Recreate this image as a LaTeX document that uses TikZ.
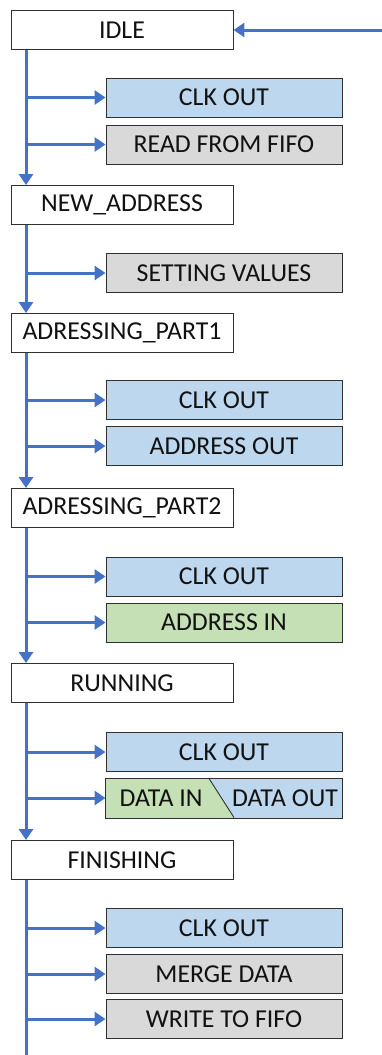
\documentclass[tikz,border=0pt]{standalone}
\usepackage{fontspec}
\setmainfont{Carlito}
\usetikzlibrary{arrows.meta}
\definecolor{flowblue}{HTML}{4472C4}
\definecolor{outblue}{HTML}{BDD7EE}
\definecolor{ingreen}{HTML}{C5E0B4}
\definecolor{taskgray}{HTML}{D9D9D9}
\definecolor{edgegray}{HTML}{303030}
\definecolor{inktext}{HTML}{111111}
\tikzset{
  boxfont/.style={font=\fontsize{25.8}{30}\selectfont},
  statebox/.style={draw=edgegray, line width=0.9pt, fill=white, minimum width=222pt, minimum height=39pt, inner sep=0pt, text=inktext, boxfont},
  taskbox/.style={draw=edgegray, line width=0.9pt, minimum width=236pt, minimum height=39pt, inner sep=0pt, text=inktext, boxfont},
  clkbox/.style={taskbox, fill=outblue},
  graybox/.style={taskbox, fill=taskgray},
  greenbox/.style={taskbox, fill=ingreen},
  flow/.style={draw=flowblue, line width=3pt, -{Triangle[length=11pt, width=14pt]}},
  trunkline/.style={draw=flowblue, line width=3pt},
  lbl/.style={inner sep=0pt, text=inktext, boxfont}
}
\begin{document}
\begin{tikzpicture}[x=1pt, y=-1pt]
\useasboundingbox (0,0) rectangle (382,1055);

% states
\node[statebox] (idle) at (122,30) {IDLE};
\node[statebox] (newaddr) at (122,205) {NEW\_ADDRESS};
\node[statebox] (adr1) at (122,333) {ADRESSING\_PART1};
\node[statebox] (adr2) at (122,508) {ADRESSING\_PART2};
\node[statebox] (run) at (122,683) {RUNNING};
\node[statebox] (fin) at (122,860) {FINISHING};

% actions per state
\node[clkbox] (clkA) at (224,97.5) {CLK OUT};
\node[graybox] (rdfifo) at (224,144.5) {READ FROM FIFO};
\node[graybox] (setval) at (224,273) {SETTING VALUES};
\node[clkbox] (clkB) at (224,400) {CLK OUT};
\node[clkbox] (addrout) at (224,446) {ADDRESS OUT};
\node[clkbox] (clkC) at (224,576.5) {CLK OUT};
\node[greenbox] (addrin) at (224,622.5) {ADDRESS IN};
\node[clkbox] (clkD) at (224,752) {CLK OUT};
\node[taskbox] (dataio) at (224,798) {};
\node[clkbox] (clkE) at (224,928) {CLK OUT};
\node[graybox] (merge) at (224,974) {MERGE DATA};
\node[graybox] (wrfifo) at (224,1019) {WRITE TO FIFO};

% split data box: green input part, blue output part
\fill[outblue] (dataio.north west) rectangle (dataio.south east);
\fill[ingreen] (dataio.north west) -- (209,778.5) -- (234,817.5) -- (dataio.south west) -- cycle;
\draw[edgegray, line width=0.9pt] (209,778.5) -- (234,817.5);
\draw[edgegray, line width=0.9pt] (dataio.north west) rectangle (dataio.south east);
\node[lbl] (datain) at (161,798) {DATA IN};
\node[lbl] (dataout) at (285,798) {DATA OUT};

% trunk position and loose ends
\coordinate (tx) at (26,0);
\coordinate (entry) at (382,30);
\coordinate (tail) at (26,1055);

% incoming arrow
\path[flow] (entry) -- (idle.east);

% trunk segments between states
\path[flow] (tx |- idle.south) -- (tx |- newaddr.north);
\path[flow] (tx |- newaddr.south) -- (tx |- adr1.north);
\path[flow] (tx |- adr1.south) -- (tx |- adr2.north);
\path[flow] (tx |- adr2.south) -- (tx |- run.north);
\path[flow] (tx |- run.south) -- (tx |- fin.north);
\path[trunkline] (tx |- fin.south) -- (tail);

% branches to actions
\foreach \t in {clkA,rdfifo,setval,clkB,addrout,clkC,addrin,clkD,dataio,clkE,merge,wrfifo}
  \path[flow] ([xshift=-1.5pt]tx |- \t.west) -- (\t.west);
\end{tikzpicture}
\end{document}
